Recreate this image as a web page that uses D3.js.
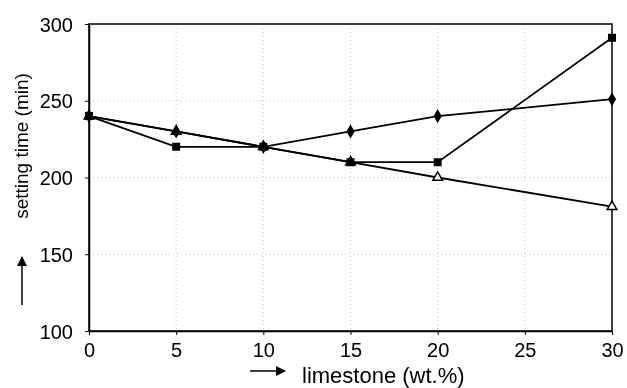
<!DOCTYPE html>
<html>
<head>
<meta charset="utf-8">
<script src="https://cdn.jsdelivr.net/npm/d3@7"></script>
<style>
  body { margin: 0; background: #fff; }
  svg { display: block; font-family: "Liberation Sans", Arial, sans-serif; will-change: transform; }
</style>
</head>
<body>
<svg id="chart" width="627" height="388"></svg>
<script>
// data
const limestone = [0, 5, 10, 15, 20, 30];
const diamondSeries = [240, 230, 220, 230, 240, 251];
const squareSeries = [240, 220, 220, 210, 210, 291];
const triangleSeries = [240, 230, 220, 210, 200, 181];
const xTicks = [0, 5, 10, 15, 20, 25, 30];
const yTicks = [100, 150, 200, 250, 300];

const svg = d3.select("#chart");
const margin = { top: 24, right: 15, bottom: 57, left: 89 };
const width = 627 - margin.left - margin.right;
const height = 388 - margin.top - margin.bottom;

const g = svg.append("g").attr("transform", `translate(${margin.left},${margin.top})`);

const x = d3.scaleLinear().domain([0, 30]).range([0, width]);
const y = d3.scaleLinear().domain([100, 300]).range([height, 0]);

// dotted grid
g.append("g")
  .selectAll("line")
  .data(yTicks.slice(1, -1))
  .enter().append("line")
  .attr("x1", 0).attr("x2", width)
  .attr("y1", d => y(d)).attr("y2", d => y(d))
  .attr("stroke", "#c4c4c4").attr("stroke-width", 1)
  .attr("stroke-dasharray", "1 3");

g.append("g")
  .selectAll("line")
  .data(xTicks.slice(1, -1))
  .enter().append("line")
  .attr("x1", d => x(d)).attr("x2", d => x(d))
  .attr("y1", 0).attr("y2", height)
  .attr("stroke", "#c4c4c4").attr("stroke-width", 1)
  .attr("stroke-dasharray", "1 3");

// frame
g.append("rect")
  .attr("width", width).attr("height", height)
  .attr("fill", "none").attr("stroke", "#000").attr("stroke-width", 1.5);

// axes
const xAxis = g.append("g")
  .attr("transform", `translate(0,${height})`)
  .call(d3.axisBottom(x).tickValues(xTicks).tickSize(4).tickSizeOuter(0).tickPadding(5));
const yAxis = g.append("g")
  .call(d3.axisLeft(y).tickValues(yTicks).tickSize(4).tickSizeOuter(0).tickPadding(12));

[xAxis, yAxis].forEach(a => {
  a.attr("font-size", 20).attr("font-family", "'Liberation Sans', Arial, sans-serif");
  a.select(".domain").attr("stroke", "#000").attr("stroke-width", 1.5);
  a.selectAll(".tick line").attr("stroke", "#000");
  a.selectAll(".tick text").attr("fill", "#000");
});
xAxis.selectAll(".tick text").attr("dy", "0.85em");
yAxis.selectAll(".tick text").attr("dy", "0.36em");

const line = d3.line()
  .x((d, i) => x(limestone[i]))
  .y(d => y(d));

const series = [
  { values: triangleSeries, shape: d3.symbolTriangle, size: 40, fill: "#fff" },
  { values: squareSeries, shape: d3.symbolSquare, size: 42, fill: "#000" },
  { values: diamondSeries, shape: d3.symbolDiamond, size: 36, fill: "#000" }
];

series.forEach(s => {
  g.append("path")
    .datum(s.values)
    .attr("d", line)
    .attr("fill", "none")
    .attr("stroke", "#000")
    .attr("stroke-width", 1.8);
});

series.forEach(s => {
  g.append("g")
    .selectAll("path")
    .data(s.values)
    .enter().append("path")
    .attr("transform", (d, i) => `translate(${x(limestone[i])},${y(d)})`)
    .attr("d", d3.symbol().type(s.shape).size(s.size))
    .attr("fill", s.fill)
    .attr("stroke", "#000")
    .attr("stroke-width", 1.5);
});

// axis titles with arrows
const defs = svg.append("defs");
defs.append("marker")
  .attr("id", "head")
  .attr("viewBox", "0 0 10 10")
  .attr("refX", 9).attr("refY", 5)
  .attr("markerWidth", 14).attr("markerHeight", 10)
  .attr("markerUnits", "userSpaceOnUse")
  .attr("orient", "auto")
  .append("path")
  .attr("d", "M0,0 L10,5 L0,10 Z")
  .attr("fill", "#000");

svg.append("text")
  .attr("transform", "translate(28,146) rotate(-90)")
  .attr("text-anchor", "middle")
  .style("font-size", "19px")
  .attr("fill", "#000")
  .text("setting time (min)");

svg.append("line")
  .attr("x1", 22).attr("y1", 305)
  .attr("x2", 22).attr("y2", 257)
  .attr("stroke", "#000").attr("stroke-width", 1.5)
  .attr("marker-end", "url(#head)");

svg.append("text")
  .attr("x", 302).attr("y", 383)
  .style("font-size", "22px")
  .attr("fill", "#000")
  .text("limestone (wt.%)");

svg.append("line")
  .attr("x1", 250).attr("y1", 371)
  .attr("x2", 285).attr("y2", 371)
  .attr("stroke", "#000").attr("stroke-width", 1.5)
  .attr("marker-end", "url(#head)");
</script>
</body>
</html>
